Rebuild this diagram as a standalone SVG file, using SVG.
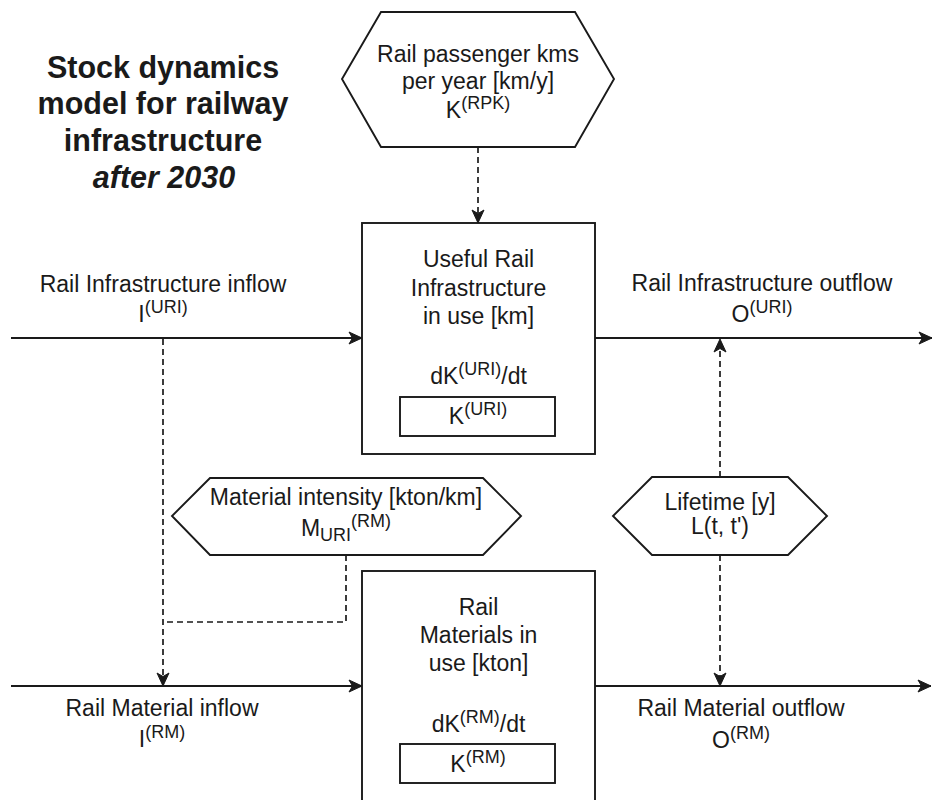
<svg xmlns="http://www.w3.org/2000/svg" width="932" height="800" viewBox="0 0 932 800">
  <style>
    text { font-family: "Liberation Sans", Arial, Helvetica, sans-serif; font-size: 23px; fill: #1a1a1a; text-anchor: middle; }
    .title { font-size: 30.5px; font-weight: bold; }
    .shape { fill: #ffffff; stroke: #1a1a1a; stroke-width: 1.9; }
    .flow { fill: none; stroke: #1a1a1a; stroke-width: 1.9; }
    .dash { fill: none; stroke: #1a1a1a; stroke-width: 1.7; stroke-dasharray: 6 4; }
    .sup { font-size: 18px; }
  </style>
  <defs>
    <marker id="arrow" markerUnits="userSpaceOnUse" markerWidth="14" markerHeight="12" refX="13" refY="6" orient="auto" overflow="visible">
      <path d="M0,0 L13,6 L0,12 L3.5,6 z" fill="#1a1a1a" stroke="#1a1a1a" stroke-width="1"/>
    </marker>
  </defs>
  <rect width="932" height="800" fill="#ffffff"/>

  <!-- heading -->
  <g id="title">
    <text class="title" x="163" y="78">Stock dynamics</text>
    <text class="title" x="163" y="114">model for railway</text>
    <text class="title" x="163" y="151">infrastructure</text>
    <text class="title" x="164" y="188" font-style="italic">after 2030</text>
  </g>

  <!-- connectors -->
  <g id="connectors">
    <path class="flow" d="M11,338 H362" marker-end="url(#arrow)"/>
    <path class="flow" d="M595,338 H932" marker-end="url(#arrow)"/>
    <path class="flow" d="M11,686 H362" marker-end="url(#arrow)"/>
    <path class="flow" d="M595,686 H931" marker-end="url(#arrow)"/>
    <path class="dash" d="M478,147 V223" marker-end="url(#arrow)"/>
    <path class="dash" d="M163,339 V686" marker-end="url(#arrow)"/>
    <path class="dash" d="M346,555 V622 H163"/>
    <path class="dash" d="M720,477 V339" marker-end="url(#arrow)"/>
    <path class="dash" d="M720,555 V686" marker-end="url(#arrow)"/>
  </g>

  <!-- flow labels -->
  <g id="label-uri-inflow">
    <text x="163" y="292">Rail Infrastructure inflow</text>
    <text x="163" y="322">I<tspan class="sup" dy="-9">(URI)</tspan></text>
  </g>
  <g id="label-uri-outflow">
    <text x="762" y="291">Rail Infrastructure outflow</text>
    <text x="762" y="322">O<tspan class="sup" dy="-9">(URI)</tspan></text>
  </g>
  <g id="label-rm-inflow">
    <text x="162" y="716">Rail Material inflow</text>
    <text x="162" y="747">I<tspan class="sup" dy="-9">(RM)</tspan></text>
  </g>
  <g id="label-rm-outflow">
    <text x="741" y="716">Rail Material outflow</text>
    <text x="741" y="748">O<tspan class="sup" dy="-9">(RM)</tspan></text>
  </g>

  <!-- passenger demand driver -->
  <g id="rail-passenger-kms">
    <polygon class="shape" points="381,12 575,12 614,79 575,147 381,147 342,79"/>
    <text x="478" y="62">Rail passenger kms</text>
    <text x="478" y="89">per year [km/y]</text>
    <text x="478" y="118">K<tspan class="sup" dy="-9">(RPK)</tspan></text>
  </g>

  <!-- infrastructure stock -->
  <g id="useful-rail-infrastructure">
    <rect class="shape" x="362" y="223" width="233" height="231"/>
    <text x="478.5" y="267">Useful Rail</text>
    <text x="478.5" y="296">Infrastructure</text>
    <text x="478.5" y="324">in use [km]</text>
    <text x="478.5" y="384">dK<tspan class="sup" dy="-9">(URI)</tspan><tspan dy="9">/dt</tspan></text>
    <rect class="shape" x="400" y="397" width="155" height="39"/>
    <text x="478" y="424">K<tspan class="sup" dy="-9">(URI)</tspan></text>
  </g>

  <!-- material intensity parameter -->
  <g id="material-intensity">
    <polygon class="shape" points="210,478 483,478 521,516 483,555 210,555 172,516"/>
    <text x="346" y="505">Material intensity [kton/km]</text>
    <text x="346" y="536">M<tspan class="sup" dy="5">URI</tspan><tspan class="sup" dy="-14">(RM)</tspan></text>
  </g>

  <!-- lifetime parameter -->
  <g id="lifetime">
    <polygon class="shape" points="652,477 788,477 827,516 788,555 652,555 613,516"/>
    <text x="720" y="510">Lifetime [y]</text>
    <text x="720" y="534">L(t, t')</text>
  </g>

  <!-- material stock -->
  <g id="rail-materials">
    <rect class="shape" x="362" y="571" width="233" height="231"/>
    <text x="478.5" y="615">Rail</text>
    <text x="478.5" y="643">Materials in</text>
    <text x="478.5" y="671">use [kton]</text>
    <text x="478.5" y="732">dK<tspan class="sup" dy="-9">(RM)</tspan><tspan dy="9">/dt</tspan></text>
    <rect class="shape" x="400" y="744" width="155" height="39"/>
    <text x="478" y="772">K<tspan class="sup" dy="-9">(RM)</tspan></text>
  </g>
</svg>
